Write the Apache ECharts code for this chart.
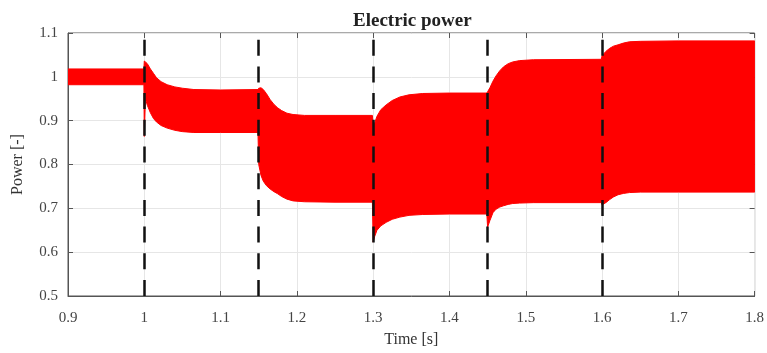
<!DOCTYPE html>
<html>
<head>
<meta charset="utf-8">
<script src="https://cdn.jsdelivr.net/npm/echarts@6/dist/echarts.min.js"></script>
<style>
  html, body { margin: 0; padding: 0; background: #fff; }
  #chart { width: 767px; height: 353px; }
</style>
</head>
<body>
<div id="chart"></div>
<script>
// Envelope of the oscillating electric power signal (upper / lower peaks)
const time = [0.900, 0.9995, 1.000, 1.0015, 1.004, 1.008, 1.012, 1.016, 1.022, 1.030, 1.040, 1.050, 1.065, 1.100, 1.149,
  1.150, 1.153, 1.156, 1.160, 1.165, 1.170, 1.175, 1.180, 1.187, 1.195, 1.210, 1.250, 1.299,
  1.300, 1.302, 1.305, 1.310, 1.317, 1.325, 1.335, 1.347, 1.365, 1.400, 1.449,
  1.450, 1.453, 1.457, 1.461, 1.466, 1.471, 1.477, 1.483, 1.492, 1.510, 1.599,
  1.600, 1.605, 1.610, 1.615, 1.621, 1.628, 1.636, 1.650, 1.700, 1.800];
const upperPeak = [1.018, 1.018, 1.036, 1.034, 1.030, 1.018, 1.008, 0.998, 0.989, 0.982, 0.977, 0.974, 0.971, 0.970, 0.971,
  0.974, 0.975, 0.971, 0.962, 0.948, 0.937, 0.929, 0.923, 0.917, 0.914, 0.912, 0.912, 0.912,
  0.890, 0.895, 0.910, 0.925, 0.936, 0.946, 0.954, 0.959, 0.962, 0.963, 0.963,
  0.966, 0.975, 0.990, 1.002, 1.014, 1.023, 1.030, 1.034, 1.037, 1.039, 1.040,
  1.048, 1.058, 1.065, 1.070, 1.073, 1.077, 1.080, 1.081, 1.082, 1.082];
const lowerPeak = [0.982, 0.982, 0.864, 0.950, 0.935, 0.918, 0.905, 0.897, 0.889, 0.883, 0.878, 0.875, 0.873, 0.873, 0.873,
  0.800, 0.775, 0.762, 0.752, 0.744, 0.738, 0.733, 0.727, 0.721, 0.717, 0.715, 0.714, 0.714,
  0.623, 0.636, 0.650, 0.660, 0.668, 0.675, 0.680, 0.684, 0.686, 0.687, 0.687,
  0.657, 0.672, 0.690, 0.698, 0.703, 0.706, 0.709, 0.711, 0.712, 0.713, 0.713,
  0.708, 0.713, 0.720, 0.726, 0.731, 0.734, 0.736, 0.737, 0.737, 0.737];

// Instants of the load steps (dashed markers)
const stepTimes = [1.0, 1.15, 1.3, 1.45, 1.6];

const xTicks = { min: 0.9, max: 1.8, step: 0.1 };
const yTicks = { min: 0.5, max: 1.1, step: 0.1 };

const serif = '"Liberation Serif", "DejaVu Serif", serif';
const fmt = v => String(parseFloat(v.toFixed(2)));

const hiddenAxis = {
  axisLine: { show: false },
  axisTick: { show: true, inside: true, length: 5, lineStyle: { color: '#555' } },
  axisLabel: { show: false },
  splitLine: { show: false }
};

// Band between the upper and lower envelope, projected through the axes
function renderBand(params, api) {
  const pts = [];
  for (let i = 0; i < time.length; i++) pts.push(api.coord([time[i], upperPeak[i]]));
  for (let i = time.length - 1; i >= 0; i--) pts.push(api.coord([time[i], lowerPeak[i]]));
  return {
    type: 'polygon',
    shape: { points: pts },
    style: { fill: '#ff0000', stroke: '#ff0000', lineWidth: 1 }
  };
}

const chart = echarts.init(document.getElementById('chart'), null, { renderer: 'canvas' });
chart.setOption({
  animation: false,
  backgroundColor: '#fff',
  title: {
    text: 'Electric power',
    left: 348, top: 7,
    textStyle: { fontFamily: serif, fontSize: 19, fontWeight: 'bold', color: '#222' }
  },
  grid: {
    left: 68, right: 11, top: 33, bottom: 56,
    show: true, borderColor: '#555', borderWidth: 1, backgroundColor: 'transparent'
  },
  xAxis: [{
    type: 'value', min: xTicks.min, max: xTicks.max, interval: xTicks.step,
    name: 'Time [s]', nameLocation: 'middle', nameGap: 36,
    nameTextStyle: { fontFamily: serif, fontSize: 16, color: '#333' },
    axisLine: { show: true, lineStyle: { color: '#555' } },
    axisTick: { show: true, inside: true, length: 5, lineStyle: { color: '#555' } },
    axisLabel: { fontFamily: serif, fontSize: 15, color: '#444', margin: 15, formatter: fmt },
    splitLine: { show: true, lineStyle: { color: '#e6e6e6', width: 1 } }
  }, Object.assign({
    type: 'value', position: 'top', min: xTicks.min, max: xTicks.max, interval: xTicks.step
  }, hiddenAxis)],
  yAxis: [{
    type: 'value', min: yTicks.min, max: yTicks.max, interval: yTicks.step,
    name: 'Power [-]', nameLocation: 'middle', nameGap: 42,
    nameTextStyle: { fontFamily: serif, fontSize: 16, color: '#333' },
    axisLine: { show: true, lineStyle: { color: '#555' } },
    axisTick: { show: true, inside: true, length: 5, lineStyle: { color: '#555' } },
    axisLabel: { fontFamily: serif, fontSize: 15, color: '#444', margin: 10, formatter: fmt },
    splitLine: { show: true, lineStyle: { color: '#e6e6e6', width: 1 } }
  }, Object.assign({
    type: 'value', position: 'right', min: yTicks.min, max: yTicks.max, interval: yTicks.step
  }, hiddenAxis)],
  series: [{
    name: 'Power', type: 'custom', renderItem: renderBand,
    data: [[time[0], upperPeak[0]]], silent: true, clip: true, z: 2
  }, {
    name: 'steps', type: 'line', data: [], silent: true, z: 3,
    markLine: {
      silent: true, symbol: 'none', animation: false,
      label: { show: false },
      lineStyle: { color: '#111', width: 2.5, type: [16, 10.7] },
      data: stepTimes.map(t => ({ xAxis: t }))
    }
  }]
});
</script>
</body>
</html>
